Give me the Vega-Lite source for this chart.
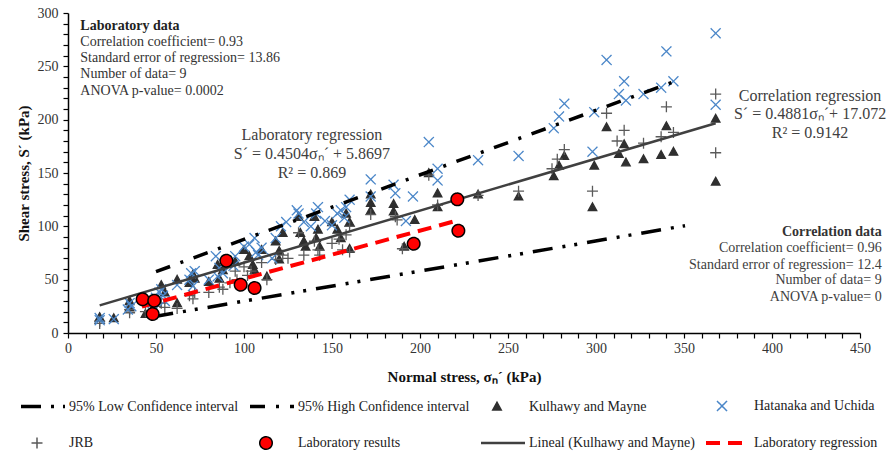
{
  "$schema": "https://vega.github.io/schema/vega-lite/v6.json",
  "width": 792,
  "height": 320,
  "autosize": {"type": "none"},
  "padding": {"left": 68, "top": 13, "right": 30, "bottom": 124},
  "background": "white",
  "config": {
    "view": {"stroke": null},
    "font": "Liberation Serif",
    "axis": {
      "grid": false,
      "domainColor": "#000000",
      "domainWidth": 1.5,
      "tickColor": "#000000",
      "tickWidth": 1.2,
      "tickSize": 5,
      "labelFont": "Liberation Serif",
      "labelFontSize": 14,
      "labelColor": "#333333",
      "labelOverlap": false,
      "labelFlush": false,
      "titleFont": "Liberation Serif",
      "titleFontSize": 15,
      "titleFontWeight": "bold",
      "titleColor": "#111111"
    }
  },
  "datasets": {
    "pts": [
      {"s":"Kulhawy and Mayne","x":18,"y":15},{"s":"Kulhawy and Mayne","x":26,"y":14},{"s":"Kulhawy and Mayne","x":35,"y":30},{"s":"Kulhawy and Mayne","x":35,"y":24},{"s":"Kulhawy and Mayne","x":44,"y":18},{"s":"Kulhawy and Mayne","x":48,"y":23},{"s":"Kulhawy and Mayne","x":53,"y":45},{"s":"Kulhawy and Mayne","x":55,"y":38},{"s":"Kulhawy and Mayne","x":62,"y":50},{"s":"Kulhawy and Mayne","x":62,"y":28},{"s":"Kulhawy and Mayne","x":69,"y":47},{"s":"Kulhawy and Mayne","x":71,"y":55},{"s":"Kulhawy and Mayne","x":72,"y":51},{"s":"Kulhawy and Mayne","x":80,"y":48},{"s":"Kulhawy and Mayne","x":85,"y":64},{"s":"Kulhawy and Mayne","x":86,"y":51},{"s":"Kulhawy and Mayne","x":88,"y":59},{"s":"Kulhawy and Mayne","x":95,"y":67},{"s":"Kulhawy and Mayne","x":100,"y":78},{"s":"Kulhawy and Mayne","x":103,"y":72},{"s":"Kulhawy and Mayne","x":105,"y":64},{"s":"Kulhawy and Mayne","x":106,"y":59},{"s":"Kulhawy and Mayne","x":110,"y":78},{"s":"Kulhawy and Mayne","x":113,"y":53},{"s":"Kulhawy and Mayne","x":118,"y":86},{"s":"Kulhawy and Mayne","x":120,"y":77},{"s":"Kulhawy and Mayne","x":122,"y":94},{"s":"Kulhawy and Mayne","x":120,"y":69},{"s":"Kulhawy and Mayne","x":131,"y":109},{"s":"Kulhawy and Mayne","x":132,"y":94},{"s":"Kulhawy and Mayne","x":134,"y":86},{"s":"Kulhawy and Mayne","x":135,"y":81},{"s":"Kulhawy and Mayne","x":140,"y":109},{"s":"Kulhawy and Mayne","x":142,"y":97},{"s":"Kulhawy and Mayne","x":141,"y":89},{"s":"Kulhawy and Mayne","x":143,"y":81},{"s":"Kulhawy and Mayne","x":150,"y":104},{"s":"Kulhawy and Mayne","x":153,"y":97},{"s":"Kulhawy and Mayne","x":155,"y":89},{"s":"Kulhawy and Mayne","x":158,"y":112},{"s":"Kulhawy and Mayne","x":160,"y":104},{"s":"Kulhawy and Mayne","x":160,"y":79},{"s":"Kulhawy and Mayne","x":172,"y":130},{"s":"Kulhawy and Mayne","x":172,"y":122},{"s":"Kulhawy and Mayne","x":172,"y":115},{"s":"Kulhawy and Mayne","x":185,"y":121},{"s":"Kulhawy and Mayne","x":185,"y":114},{"s":"Kulhawy and Mayne","x":191,"y":81},{"s":"Kulhawy and Mayne","x":197,"y":106},{"s":"Kulhawy and Mayne","x":205,"y":150},{"s":"Kulhawy and Mayne","x":210,"y":131},{"s":"Kulhawy and Mayne","x":210,"y":118},{"s":"Kulhawy and Mayne","x":233,"y":130},{"s":"Kulhawy and Mayne","x":256,"y":128},{"s":"Kulhawy and Mayne","x":276,"y":147},{"s":"Kulhawy and Mayne","x":279,"y":157},{"s":"Kulhawy and Mayne","x":282,"y":166},{"s":"Kulhawy and Mayne","x":298,"y":118},{"s":"Kulhawy and Mayne","x":299,"y":157},{"s":"Kulhawy and Mayne","x":306,"y":193},{"s":"Kulhawy and Mayne","x":313,"y":168},{"s":"Kulhawy and Mayne","x":316,"y":177},{"s":"Kulhawy and Mayne","x":317,"y":160},{"s":"Kulhawy and Mayne","x":327,"y":163},{"s":"Kulhawy and Mayne","x":337,"y":167},{"s":"Kulhawy and Mayne","x":340,"y":194},{"s":"Kulhawy and Mayne","x":344,"y":170},{"s":"Kulhawy and Mayne","x":368,"y":201},{"s":"Kulhawy and Mayne","x":368,"y":142},
      {"s":"JRB","x":18,"y":11},{"s":"JRB","x":18,"y":9},{"s":"JRB","x":35,"y":22},{"s":"JRB","x":35,"y":19},{"s":"JRB","x":44,"y":20},{"s":"JRB","x":50,"y":25},{"s":"JRB","x":53,"y":28},{"s":"JRB","x":55,"y":24},{"s":"JRB","x":62,"y":23},{"s":"JRB","x":69,"y":35},{"s":"JRB","x":71,"y":32},{"s":"JRB","x":72,"y":38},{"s":"JRB","x":80,"y":38},{"s":"JRB","x":86,"y":43},{"s":"JRB","x":88,"y":41},{"s":"JRB","x":92,"y":47},{"s":"JRB","x":95,"y":58},{"s":"JRB","x":96,"y":50},{"s":"JRB","x":100,"y":62},{"s":"JRB","x":104,"y":58},{"s":"JRB","x":102,"y":54},{"s":"JRB","x":110,"y":66},{"s":"JRB","x":113,"y":50},{"s":"JRB","x":118,"y":69},{"s":"JRB","x":122,"y":73},{"s":"JRB","x":125,"y":70},{"s":"JRB","x":131,"y":94},{"s":"JRB","x":134,"y":73},{"s":"JRB","x":140,"y":86},{"s":"JRB","x":142,"y":78},{"s":"JRB","x":143,"y":73},{"s":"JRB","x":150,"y":84},{"s":"JRB","x":154,"y":88},{"s":"JRB","x":156,"y":78},{"s":"JRB","x":160,"y":100},{"s":"JRB","x":158,"y":92},{"s":"JRB","x":160,"y":76},{"s":"JRB","x":172,"y":111},{"s":"JRB","x":186,"y":109},{"s":"JRB","x":187,"y":106},{"s":"JRB","x":190,"y":79},{"s":"JRB","x":205,"y":148},{"s":"JRB","x":210,"y":120},{"s":"JRB","x":233,"y":129},{"s":"JRB","x":256,"y":133},{"s":"JRB","x":275,"y":154},{"s":"JRB","x":278,"y":163},{"s":"JRB","x":282,"y":172},{"s":"JRB","x":298,"y":133},{"s":"JRB","x":306,"y":206},{"s":"JRB","x":312,"y":180},{"s":"JRB","x":316,"y":190},{"s":"JRB","x":327,"y":178},{"s":"JRB","x":337,"y":184},{"s":"JRB","x":340,"y":212},{"s":"JRB","x":344,"y":188},{"s":"JRB","x":368,"y":224},{"s":"JRB","x":368,"y":169},
      {"s":"Hatanaka and Uchida","x":18,"y":14},{"s":"Hatanaka and Uchida","x":18,"y":12},{"s":"Hatanaka and Uchida","x":26,"y":13},{"s":"Hatanaka and Uchida","x":35,"y":28},{"s":"Hatanaka and Uchida","x":36,"y":25},{"s":"Hatanaka and Uchida","x":34,"y":22},{"s":"Hatanaka and Uchida","x":48,"y":28},{"s":"Hatanaka and Uchida","x":50,"y":33},{"s":"Hatanaka and Uchida","x":52,"y":38},{"s":"Hatanaka and Uchida","x":53,"y":41},{"s":"Hatanaka and Uchida","x":54,"y":35},{"s":"Hatanaka and Uchida","x":55,"y":30},{"s":"Hatanaka and Uchida","x":62,"y":45},{"s":"Hatanaka and Uchida","x":69,"y":50},{"s":"Hatanaka and Uchida","x":70,"y":56},{"s":"Hatanaka and Uchida","x":72,"y":58},{"s":"Hatanaka and Uchida","x":71,"y":44},{"s":"Hatanaka and Uchida","x":80,"y":50},{"s":"Hatanaka and Uchida","x":84,"y":72},{"s":"Hatanaka and Uchida","x":86,"y":61},{"s":"Hatanaka and Uchida","x":85,"y":53},{"s":"Hatanaka and Uchida","x":88,"y":56},{"s":"Hatanaka and Uchida","x":95,"y":72},{"s":"Hatanaka and Uchida","x":94,"y":63},{"s":"Hatanaka and Uchida","x":100,"y":81},{"s":"Hatanaka and Uchida","x":103,"y":83},{"s":"Hatanaka and Uchida","x":106,"y":89},{"s":"Hatanaka and Uchida","x":107,"y":76},{"s":"Hatanaka and Uchida","x":110,"y":80},{"s":"Hatanaka and Uchida","x":108,"y":73},{"s":"Hatanaka and Uchida","x":118,"y":89},{"s":"Hatanaka and Uchida","x":121,"y":100},{"s":"Hatanaka and Uchida","x":124,"y":104},{"s":"Hatanaka and Uchida","x":116,"y":70},{"s":"Hatanaka and Uchida","x":130,"y":115},{"s":"Hatanaka and Uchida","x":131,"y":112},{"s":"Hatanaka and Uchida","x":134,"y":104},{"s":"Hatanaka and Uchida","x":138,"y":100},{"s":"Hatanaka and Uchida","x":142,"y":118},{"s":"Hatanaka and Uchida","x":141,"y":112},{"s":"Hatanaka and Uchida","x":146,"y":105},{"s":"Hatanaka and Uchida","x":150,"y":101},{"s":"Hatanaka and Uchida","x":153,"y":112},{"s":"Hatanaka and Uchida","x":155,"y":115},{"s":"Hatanaka and Uchida","x":157,"y":108},{"s":"Hatanaka and Uchida","x":160,"y":125},{"s":"Hatanaka and Uchida","x":158,"y":118},{"s":"Hatanaka and Uchida","x":172,"y":144},{"s":"Hatanaka and Uchida","x":172,"y":128},{"s":"Hatanaka and Uchida","x":185,"y":139},{"s":"Hatanaka and Uchida","x":186,"y":131},{"s":"Hatanaka and Uchida","x":192,"y":105},{"s":"Hatanaka and Uchida","x":196,"y":128},{"s":"Hatanaka and Uchida","x":205,"y":179},{"s":"Hatanaka and Uchida","x":210,"y":154},{"s":"Hatanaka and Uchida","x":210,"y":143},{"s":"Hatanaka and Uchida","x":233,"y":162},{"s":"Hatanaka and Uchida","x":256,"y":166},{"s":"Hatanaka and Uchida","x":276,"y":192},{"s":"Hatanaka and Uchida","x":279,"y":203},{"s":"Hatanaka and Uchida","x":282,"y":215},{"s":"Hatanaka and Uchida","x":298,"y":170},{"s":"Hatanaka and Uchida","x":299,"y":207},{"s":"Hatanaka and Uchida","x":306,"y":256},{"s":"Hatanaka and Uchida","x":313,"y":224},{"s":"Hatanaka and Uchida","x":316,"y":236},{"s":"Hatanaka and Uchida","x":317,"y":218},{"s":"Hatanaka and Uchida","x":327,"y":224},{"s":"Hatanaka and Uchida","x":337,"y":230},{"s":"Hatanaka and Uchida","x":340,"y":264},{"s":"Hatanaka and Uchida","x":344,"y":236},{"s":"Hatanaka and Uchida","x":368,"y":281},{"s":"Hatanaka and Uchida","x":368,"y":214}
    ],
    "lab": [
      {"s":"Laboratory results","x":42.4,"y":31.6},{"s":"Laboratory results","x":49,"y":30.3},{"s":"Laboratory results","x":48.1,"y":17.8},{"s":"Laboratory results","x":90,"y":67.8},{"s":"Laboratory results","x":98.1,"y":45.3},{"s":"Laboratory results","x":106,"y":42.2},{"s":"Laboratory results","x":196.4,"y":83.7},{"s":"Laboratory results","x":221.2,"y":125.3},{"s":"Laboratory results","x":221.8,"y":95.9}
    ],
    "lowci": [{"x":48.5,"y":15.3},{"x":350.6,"y":100.6}],
    "highci": [{"x":50,"y":57.5},{"x":344.3,"y":235.6}],
    "lineal": [{"x":18,"y":25.9},{"x":368,"y":196.7}],
    "labreg": [{"x":42,"y":24.8},{"x":221,"y":105.4}],
    "boldLeft": [{"x":7,"y":288,"t":"Laboratory data"}],
    "textLeft": [
      {"x":7,"y":273,"t":"Correlation coefficient= 0.93"},
      {"x":7,"y":257.5,"t":"Standard error of regression= 13.86"},
      {"x":7,"y":242.5,"t":"Number of data= 9"},
      {"x":7,"y":227.2,"t":"ANOVA p-value= 0.0002"}
    ],
    "textCenter": [
      {"x":138.6,"y":185.6,"t":"Laboratory regression"},
      {"x":138.6,"y":167.8,"t":"S´  = 0.4504σₙ´  + 5.8697"},
      {"x":138.6,"y":150,"t":"R² = 0.869"},
      {"x":421.6,"y":222.5,"t":"Correlation regression"},
      {"x":421.6,"y":205,"t":"S´ = 0.4881σₙ´+ 17.072"},
      {"x":421.6,"y":187.2,"t":"R² = 0.9142"}
    ],
    "boldRight": [{"x":462.3,"y":95,"t":"Correlation data"}],
    "textRight": [
      {"x":462.3,"y":79.4,"t":"Correlation coefficient= 0.96"},
      {"x":462.3,"y":63.8,"t":"Standard error of regression= 12.4"},
      {"x":462.3,"y":49.7,"t":"Number of data= 9"},
      {"x":462.3,"y":33.8,"t":"ANOVA p-value= 0"}
    ]
  },
  "encoding": {
    "x": {
      "field": "x", "type": "quantitative",
      "scale": {"domain": [0, 450], "nice": false, "zero": false},
      "title": "Normal stress, σₙ´  (kPa)",
      "axis": {
        "values": [0,10,20,30,40,50,60,70,80,90,100,110,120,130,140,150,160,170,180,190,200,210,220,230,240,250,260,270,280,290,300,310,320,330,340,350,360,370,380,390,400,410,420,430,440,450],
        "labelExpr": "datum.value % 50 === 0 ? datum.label : ''",
        "labelPadding": 3,
        "titlePadding": 14
      }
    },
    "y": {
      "field": "y", "type": "quantitative",
      "scale": {"domain": [0, 300], "nice": false, "zero": false},
      "title": "Shear stress, S´  (kPa)",
      "axis": {
        "values": [0,10,20,30,40,50,60,70,80,90,100,110,120,130,140,150,160,170,180,190,200,210,220,230,240,250,260,270,280,290,300],
        "labelExpr": "datum.value % 50 === 0 ? datum.label : ''",
        "labelPadding": 5,
        "titlePadding": 6
      }
    }
  },
  "layer": [
    {
      "data": {"name": "pts"},
      "mark": {"type": "point", "size": 100, "opacity": 1, "strokeWidth": 1.3},
      "encoding": {
        "shape": {"field": "s", "type": "nominal", "scale": {"domain": ["95% Low Confidence interval","95% High Confidence interval","Kulhawy and Mayne","Hatanaka and Uchida","JRB","Laboratory results","Lineal (Kulhawy and Mayne)","Laboratory regression"], "range": ["M-3.2,-0.22H5.6M-3.2,0H5.6M-3.2,0.22H5.6","M-3.2,-0.22H5.6M-3.2,0H5.6M-3.2,0.22H5.6","M0,-0.85L0.85,0.7L-0.85,0.7Z","M-1,-1L1,1M-1,1L1,-1","M-1.1,0H1.1M0,-1.1V1.1","M-1.25,0A1.25,1.25 0 1,0 1.25,0A1.25,1.25 0 1,0 -1.25,0Z","M-3.2,-0.12H5.6M-3.2,0.12H5.6","M-3.2,-0.27H5.6M-3.2,-0.09H5.6M-3.2,0.09H5.6M-3.2,0.27H5.6"]}},
        "fill": {"field": "s", "type": "nominal", "scale": {"domain": ["95% Low Confidence interval","95% High Confidence interval","Kulhawy and Mayne","Hatanaka and Uchida","JRB","Laboratory results","Lineal (Kulhawy and Mayne)","Laboratory regression"], "range": ["transparent","transparent","#2f2f2f","transparent","transparent","#ff0000","transparent","transparent"]}},
        "strokeDash": {"field": "s", "type": "nominal", "scale": {"domain": ["95% Low Confidence interval","95% High Confidence interval","Kulhawy and Mayne","Hatanaka and Uchida","JRB","Laboratory results","Lineal (Kulhawy and Mayne)","Laboratory regression"], "range": [[20,10,3,9,3,10],[15,11,3,11],[1,0],[1,0],[1,0],[1,0],[1,0],[14,8]]}},
        "stroke": {"field": "s", "type": "nominal", "scale": {"domain": ["95% Low Confidence interval","95% High Confidence interval","Kulhawy and Mayne","Hatanaka and Uchida","JRB","Laboratory results","Lineal (Kulhawy and Mayne)","Laboratory regression"], "range": ["#000000","#000000","#2f2f2f","#4a86c8","#5a5a5a","#000000","#404040","#ff0000"]},
          "legend": {
            "title": null,
            "orient": "none",
            "legendX": -38,
            "legendY": 386,
            "direction": "horizontal",
            "columns": 4,
            "columnPadding": 8,
            "rowPadding": 19,
            "labelOffset": 25,
            "labelLimit": 400,
            "labelFont": "Liberation Serif",
            "labelFontSize": 14,
            "labelColor": "#222222",
            "symbolSize": 100
          }
        }
      }
    },
    {
      "data": {"name": "lowci"},
      "mark": {"type": "line", "color": "#000000", "strokeWidth": 3.5, "strokeDash": [20,10,3,9,3,10], "strokeCap": "butt"}
    },
    {
      "data": {"name": "highci"},
      "mark": {"type": "line", "color": "#000000", "strokeWidth": 3.5, "strokeDash": [15,11,3,11], "strokeCap": "butt"}
    },
    {
      "data": {"name": "lineal"},
      "mark": {"type": "line", "color": "#404040", "strokeWidth": 2.5}
    },
    {
      "data": {"name": "labreg"},
      "mark": {"type": "line", "color": "#ff0000", "strokeWidth": 4, "strokeDash": [14,8], "strokeCap": "butt"}
    },
    {
      "data": {"name": "lab"},
      "mark": {"type": "point", "size": 100, "opacity": 1, "strokeWidth": 1.5},
      "encoding": {
        "shape": {"field": "s", "type": "nominal"},
        "fill": {"field": "s", "type": "nominal"},
        "strokeDash": {"field": "s", "type": "nominal"},
        "stroke": {"field": "s", "type": "nominal"}
      }
    },
    {
      "data": {"name": "boldLeft"},
      "mark": {"type": "text", "align": "left", "baseline": "middle", "font": "Liberation Serif", "fontSize": 14, "fontWeight": "bold", "color": "#222222"},
      "encoding": {"text": {"field": "t"}}
    },
    {
      "data": {"name": "textLeft"},
      "mark": {"type": "text", "align": "left", "baseline": "middle", "font": "Liberation Serif", "fontSize": 14, "color": "#333333"},
      "encoding": {"text": {"field": "t"}}
    },
    {
      "data": {"name": "textCenter"},
      "mark": {"type": "text", "align": "center", "baseline": "middle", "font": "Liberation Serif", "fontSize": 16, "color": "#404040"},
      "encoding": {"text": {"field": "t"}}
    },
    {
      "data": {"name": "boldRight"},
      "mark": {"type": "text", "align": "right", "baseline": "middle", "font": "Liberation Serif", "fontSize": 14, "fontWeight": "bold", "color": "#333333"},
      "encoding": {"text": {"field": "t"}}
    },
    {
      "data": {"name": "textRight"},
      "mark": {"type": "text", "align": "right", "baseline": "middle", "font": "Liberation Serif", "fontSize": 14, "color": "#404040"},
      "encoding": {"text": {"field": "t"}}
    }
  ]
}
